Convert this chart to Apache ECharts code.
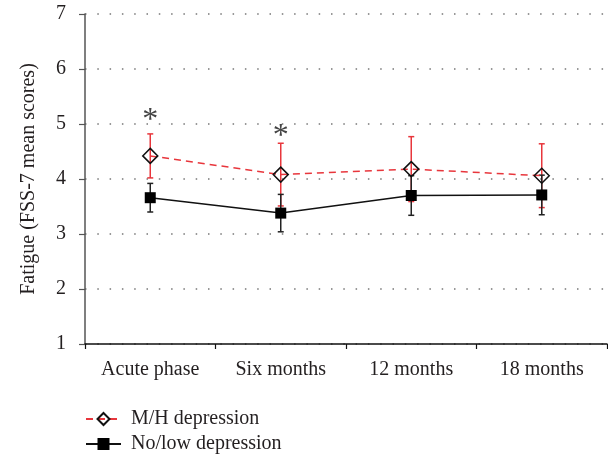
<!DOCTYPE html>
<html>
<head>
<meta charset="utf-8">
<script src="https://cdn.jsdelivr.net/npm/echarts@6/dist/echarts.min.js"></script>
<style>html,body{margin:0;padding:0;background:#fff}#c{width:608px;height:456px}</style>
</head>
<body>
<div id="c"></div>
<script>
const categories = ['Acute phase', 'Six months', '12 months', '18 months'];
const mhMean = [4.42, 4.08, 4.18, 4.06];
const mhSd = [0.40, 0.57, 0.59, 0.58];
const lowMean = [3.66, 3.38, 3.70, 3.71];
const lowSd = [0.26, 0.34, 0.36, 0.36];
const starPoints = [[0, 5.16], [1, 4.86]];
const yTicks = [1, 2, 3, 4, 5, 6, 7];

const FONT = '"Liberation Serif", "DejaVu Serif", serif';
const TXT = '#231f20';
const RED = '#e8363c';
const FS = 20;

function errData(mean, sd) {
  return categories.map((c, i) => [i, mean[i] - sd[i], mean[i] + sd[i]]);
}
function errRender(color) {
  return function (params, api) {
    const lo = api.coord([api.value(0), api.value(1)]);
    const hi = api.coord([api.value(0), api.value(2)]);
    const w = 3;
    const st = { stroke: color, lineWidth: 1.5 };
    return {
      type: 'group',
      children: [
        { type: 'line', shape: { x1: lo[0], y1: lo[1], x2: hi[0], y2: hi[1] }, style: st },
        { type: 'line', shape: { x1: lo[0] - w, y1: lo[1], x2: lo[0] + w, y2: lo[1] }, style: st },
        { type: 'line', shape: { x1: hi[0] - w, y1: hi[1], x2: hi[0] + w, y2: hi[1] }, style: st }
      ]
    };
  };
}
function starRender(params, api) {
  const p = api.coord([api.value(0), api.value(1)]);
  return {
    type: 'text',
    style: { x: p[0], y: p[1] + 5, text: '*', fontFamily: FONT, fontSize: 32, fill: '#444', align: 'center', verticalAlign: 'middle' }
  };
}

const chart = echarts.init(document.getElementById('c'));
chart.setOption({
  animation: false,
  grid: { left: 85, right: 1, top: 14, bottom: 112, containLabel: false },
  legend: {
    orient: 'vertical', left: 85, top: 409, itemWidth: 35, itemHeight: 15, itemGap: 5, padding: 0,
    textStyle: { fontFamily: FONT, fontSize: FS, color: TXT, padding: [0, 0, 0, 5] },
    data: ['M/H depression', 'No/low depression']
  },
  xAxis: {
    type: 'category', data: categories, boundaryGap: true,
    axisLine: { lineStyle: { color: '#111', width: 1.5 } },
    axisTick: { show: true, length: 5, lineStyle: { color: '#111', width: 1.2 } },
    axisLabel: { fontFamily: FONT, fontSize: FS, color: TXT, margin: 16 },
    splitLine: { show: false }
  },
  yAxis: {
    type: 'value', min: yTicks[0], max: yTicks[yTicks.length - 1], interval: 1,
    name: 'Fatigue (FSS-7 mean scores)', nameLocation: 'middle', nameGap: 46, nameRotate: 90,
    nameTextStyle: { fontFamily: FONT, fontSize: FS, color: TXT },
    axisLine: { show: true, lineStyle: { color: '#555', width: 1.5 } },
    axisTick: { show: true, length: 6, lineStyle: { color: '#555', width: 1.2 } },
    axisLabel: { fontFamily: FONT, fontSize: FS, color: TXT, margin: 19 },
    splitLine: { show: true, lineStyle: { color: '#777', width: 1.5, type: [1.5, 10.8] } }
  },
  series: [
    {
      type: 'custom', name: 'errMH', renderItem: errRender(RED), data: errData(mhMean, mhSd), z: 2, silent: true
    },
    {
      type: 'custom', name: 'errLow', renderItem: errRender('#222'), data: errData(lowMean, lowSd), z: 3, silent: true
    },
    {
      type: 'line', name: 'M/H depression', data: mhMean, z: 4,
      lineStyle: { color: RED, width: 1.5, type: [7, 5] },
      symbol: 'diamond', symbolSize: [15, 15], showAllSymbol: true,
      itemStyle: { color: 'rgba(255,255,255,0)', borderColor: '#111', borderWidth: 1.5 }
    },
    {
      type: 'line', name: 'No/low depression', data: lowMean, z: 5,
      lineStyle: { color: '#111', width: 1.5 },
      symbol: 'rect', symbolSize: 11, showAllSymbol: true,
      itemStyle: { color: '#000', borderColor: '#000', borderWidth: 0 }
    },
    {
      type: 'custom', name: 'stars', renderItem: starRender, data: starPoints, z: 6, silent: true
    }
  ]
});
</script>
</body>
</html>
